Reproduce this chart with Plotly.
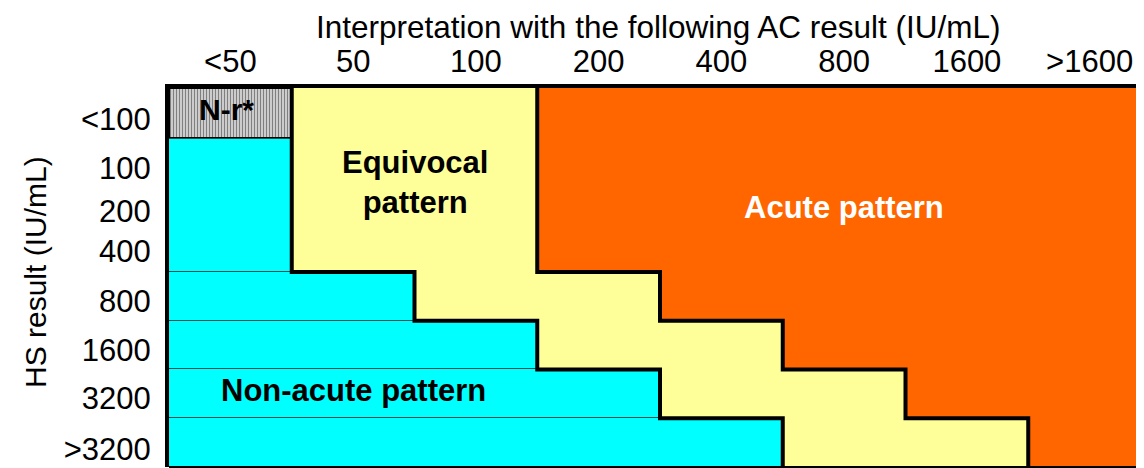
import plotly.graph_objects as go

# ---- data ----
ac_labels = ["<50", "50", "100", "200", "400", "800", "1600", ">1600"]
hs_labels = ["<100", "100", "200", "400", "800", "1600", "3200", ">3200"]
hs_label_pos = [0.64, 1.64, 2.52, 3.34, 4.36, 5.37, 6.35, 7.40]

# interpretation rows (top to bottom): row heights in row units
row_names = ["<100", "100-400", "800", "1600", "3200", ">3200"]
row_heights = [1.05, 2.72, 1.0, 1.0, 1.0, 1.0]
# column index where the equivocal (yellow) zone starts, and where the acute (orange) zone starts
equivocal_start = [1, 1, 2, 3, 4, 5]
acute_start = [3, 3, 4, 5, 6, 7]
n_cols = len(ac_labels)

# derived row geometry
row_top = []
acc = 0.0
for h in row_heights:
    row_top.append(acc)
    acc += h
row_bottom = [t + h for t, h in zip(row_top, row_heights)]
row_mid = [(t + b) / 2 for t, b in zip(row_top, row_bottom)]
y_total = acc

FONT = "Liberation Sans, Arial, sans-serif"
CYAN = "#00FFFF"
YELLOW = "#FFFF99"
ORANGE = "#FF6600"

fig = go.Figure()

# N-r* hatched box (first row, first column)
fig.add_trace(go.Bar(
    orientation="h", y=[row_mid[0]], x=[equivocal_start[0]], base=[0],
    width=[row_heights[0]],
    marker=dict(color="white", line=dict(color="black", width=3),
                pattern=dict(shape="|", fgcolor="black", bgcolor="white", size=3, solidity=0.6)),
    showlegend=False, hoverinfo="skip"))

# non-acute (cyan) rows
fig.add_trace(go.Bar(
    orientation="h", y=row_mid[1:], x=equivocal_start[1:], base=[0] * (len(row_mid) - 1),
    width=row_heights[1:],
    marker=dict(color=CYAN, line=dict(color="#1E5050", width=1)),
    showlegend=False, hoverinfo="skip"))

# equivocal (yellow)
fig.add_trace(go.Bar(
    orientation="h", y=row_mid,
    x=[a - e for a, e in zip(acute_start, equivocal_start)], base=equivocal_start,
    width=row_heights,
    marker=dict(color=YELLOW, line=dict(width=0)),
    showlegend=False, hoverinfo="skip"))

# acute (orange)
fig.add_trace(go.Bar(
    orientation="h", y=row_mid,
    x=[n_cols - a for a in acute_start], base=acute_start,
    width=row_heights,
    marker=dict(color=ORANGE, line=dict(width=0)),
    showlegend=False, hoverinfo="skip"))

# step boundary lines
def step_xy(starts):
    xs, ys = [], []
    for s, t, b in zip(starts, row_top, row_bottom):
        xs += [s, s]
        ys += [t, b]
    return xs, ys

for starts in (equivocal_start, acute_start):
    sx, sy = step_xy(starts)
    fig.add_trace(go.Scatter(x=sx, y=sy, mode="lines",
                             line=dict(color="black", width=4, shape="linear"),
                             showlegend=False, hoverinfo="skip"))

# zone labels
fig.add_annotation(x=0.47, y=0.45, text="<b>N-r*</b>", showarrow=False,
                   xanchor="center", yanchor="middle",
                   font=dict(family=FONT, size=30, color="black"))
fig.add_annotation(x=2.0, y=1.93, text="<b>Equivocal<br>pattern</b>", showarrow=False,
                   xanchor="center", yanchor="middle",
                   font=dict(family=FONT, size=31, color="black"))
fig.add_annotation(x=5.5, y=2.44, text="<b>Acute pattern</b>", showarrow=False,
                   xanchor="center", yanchor="middle",
                   font=dict(family=FONT, size=31, color="white"))
fig.add_annotation(x=1.5, y=6.2, text="<b>Non-acute pattern</b>", showarrow=False,
                   xanchor="center", yanchor="middle",
                   font=dict(family=FONT, size=31, color="black"))

# layout geometry (figure sits 8px inside the page)
W, H = 1136, 460
ML, MT, MB = 161, 80, 1
plot_w = W - ML
plot_h = H - MT - MB

# axis titles
fig.add_annotation(xref="paper", yref="paper",
                   x=(650 - ML) / plot_w, y=1 + (MT - 19) / plot_h,
                   xanchor="center", yanchor="middle",
                   text="Interpretation with the following AC result (IU/mL)",
                   showarrow=False, font=dict(family=FONT, size=31.5, color="black"))
fig.add_annotation(xref="paper", yref="paper",
                   x=(27 - ML) / plot_w, y=(H - MB - 264) / plot_h,
                   xanchor="center", yanchor="middle",
                   text="HS result (IU/mL)", textangle=-90,
                   showarrow=False, font=dict(family=FONT, size=30, color="black"))

# bottom frame line
fig.add_shape(type="line", xref="paper", yref="paper", x0=0, x1=1, y0=0, y1=0,
              line=dict(color="black", width=2))

fig.update_layout(
    width=W, height=H,
    margin=dict(l=ML, r=0, t=MT, b=MB),
    paper_bgcolor="white", plot_bgcolor="white",
    barmode="overlay", bargap=0,
    font=dict(family=FONT, size=31, color="black"),
    xaxis=dict(range=[0, plot_w / 122.75], side="top", automargin=False,
               tickvals=[i + 0.5 for i in range(n_cols)], ticktext=ac_labels,
               showgrid=False, zeroline=False, showline=True, linecolor="black", linewidth=4,
               ticks="", tickfont=dict(family=FONT, size=31, color="black")),
    yaxis=dict(range=[y_total, 0], tickvals=hs_label_pos, ticktext=hs_labels, automargin=False,
               showgrid=False, zeroline=False, showline=True, linecolor="black", linewidth=4,
               ticks="", ticklabelstandoff=8, tickfont=dict(family=FONT, size=31, color="black")),
)

fig.write_html("out.html")
